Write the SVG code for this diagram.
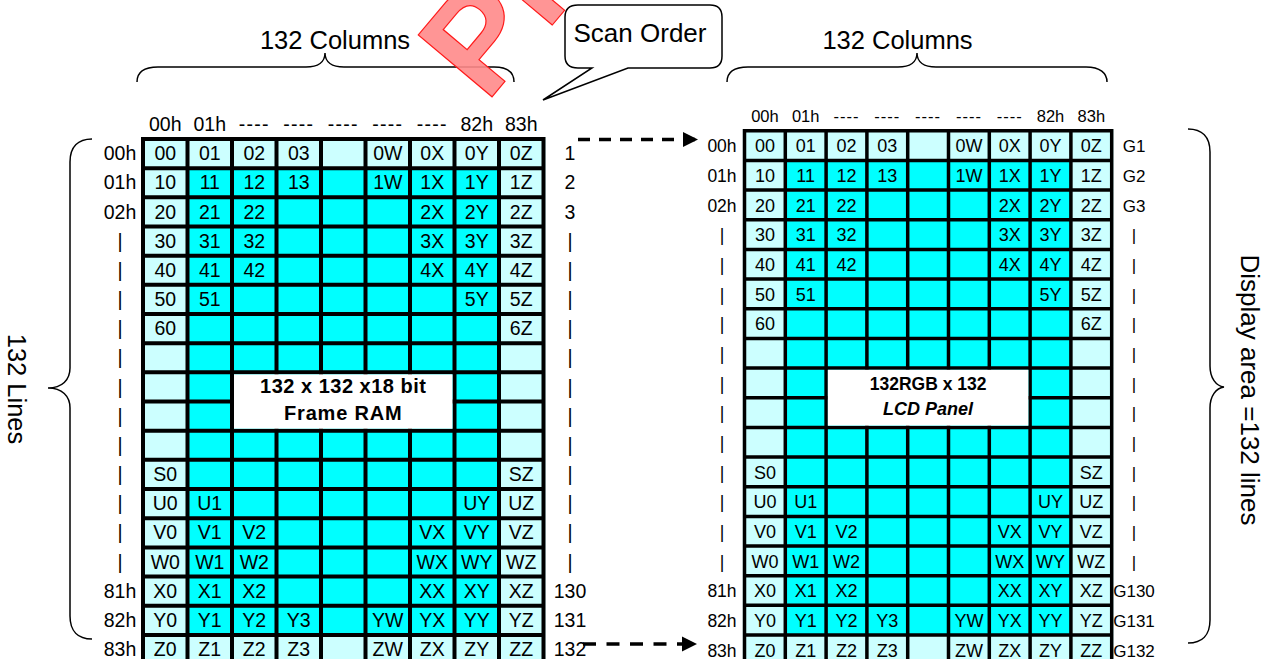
<svg xmlns="http://www.w3.org/2000/svg" width="1266" height="659" viewBox="0 0 1266 659">
<defs>
<style>
text{font-family:"Liberation Sans",Arial,Helvetica,sans-serif;fill:#000}
.m{text-anchor:middle}
.fl{font-size:19.5px}
.fr{font-size:18px}
.fh{font-size:16.5px}
.fg{font-size:17px}
.big{font-size:25.5px}
.b{font-weight:bold}
.dsh{letter-spacing:1.3px}
.lc{fill:#ccffff}
.cy{fill:#00ffff}
.wh{fill:#ffffff}
.gl{fill:none;stroke:#000;stroke-width:4}
.gr{fill:none;stroke:#000;stroke-width:3.5}
.brace{fill:none;stroke:#000;stroke-width:1.5}
.dash{fill:none;stroke:#000;stroke-width:3.5}
text.wm{fill:#ff8a8a;fill-opacity:0.9;stroke:#ff1a1a;stroke-width:1.2px;font-weight:bold;font-size:140px}
</style>
<marker id="ah" markerUnits="userSpaceOnUse" markerWidth="16" markerHeight="16" refX="15" refY="8" orient="auto"><path d="M0,0.5L15,8L0,15.5z" fill="#000"/></marker>
</defs>
<rect width="1266" height="659" fill="#fff"/>

<g id="frame-ram">
<rect class="lc" x="141" y="137" width="404.5" height="527"/>
<rect class="cy" x="187.5" y="168.17" width="311.5" height="466.72"/>
<path class="gl" d="M143,137V665M187.5,137V665M232,137V665M276.5,137V665M321,137V665M365.5,137V665M410,137V665M454.5,137V665M499,137V665M543.5,137V665M141,139H545.5M141,168.17H545.5M141,197.34H545.5M141,226.51H545.5M141,255.68H545.5M141,284.85H545.5M141,314.02H545.5M141,343.19H545.5M141,372.36H545.5M141,401.53H545.5M141,430.7H545.5M141,459.87H545.5M141,489.04H545.5M141,518.21H545.5M141,547.38H545.5M141,576.55H545.5M141,605.72H545.5M141,634.89H545.5"/>
<rect class="wh" x="234" y="374.36" width="218.5" height="54.34"/>
<text class="m b" font-size="20" letter-spacing="0.5" x="343.25" y="393.3">132 x 132 x18 bit</text>
<text class="m b" font-size="20" letter-spacing="0.8" x="343.25" y="420">Frame RAM</text>
<g class="fl m">
<text y="160.2"><tspan x="165.25">00</tspan><tspan x="209.75">01</tspan><tspan x="254.25">02</tspan><tspan x="298.75">03</tspan><tspan x="387.75">0W</tspan><tspan x="432.25">0X</tspan><tspan x="476.75">0Y</tspan><tspan x="521.25">0Z</tspan></text>
<text y="189.4"><tspan x="165.25">10</tspan><tspan x="209.75">11</tspan><tspan x="254.25">12</tspan><tspan x="298.75">13</tspan><tspan x="387.75">1W</tspan><tspan x="432.25">1X</tspan><tspan x="476.75">1Y</tspan><tspan x="521.25">1Z</tspan></text>
<text y="218.5"><tspan x="165.25">20</tspan><tspan x="209.75">21</tspan><tspan x="254.25">22</tspan><tspan x="432.25">2X</tspan><tspan x="476.75">2Y</tspan><tspan x="521.25">2Z</tspan></text>
<text y="247.7"><tspan x="165.25">30</tspan><tspan x="209.75">31</tspan><tspan x="254.25">32</tspan><tspan x="432.25">3X</tspan><tspan x="476.75">3Y</tspan><tspan x="521.25">3Z</tspan></text>
<text y="276.9"><tspan x="165.25">40</tspan><tspan x="209.75">41</tspan><tspan x="254.25">42</tspan><tspan x="432.25">4X</tspan><tspan x="476.75">4Y</tspan><tspan x="521.25">4Z</tspan></text>
<text y="306.1"><tspan x="165.25">50</tspan><tspan x="209.75">51</tspan><tspan x="476.75">5Y</tspan><tspan x="521.25">5Z</tspan></text>
<text y="335.2"><tspan x="165.25">60</tspan><tspan x="521.25">6Z</tspan></text>
<text y="481.1"><tspan x="165.25">S0</tspan><tspan x="521.25">SZ</tspan></text>
<text y="510.2"><tspan x="165.25">U0</tspan><tspan x="209.75">U1</tspan><tspan x="476.75">UY</tspan><tspan x="521.25">UZ</tspan></text>
<text y="539.4"><tspan x="165.25">V0</tspan><tspan x="209.75">V1</tspan><tspan x="254.25">V2</tspan><tspan x="432.25">VX</tspan><tspan x="476.75">VY</tspan><tspan x="521.25">VZ</tspan></text>
<text y="568.6"><tspan x="165.25">W0</tspan><tspan x="209.75">W1</tspan><tspan x="254.25">W2</tspan><tspan x="432.25">WX</tspan><tspan x="476.75">WY</tspan><tspan x="521.25">WZ</tspan></text>
<text y="597.8"><tspan x="165.25">X0</tspan><tspan x="209.75">X1</tspan><tspan x="254.25">X2</tspan><tspan x="432.25">XX</tspan><tspan x="476.75">XY</tspan><tspan x="521.25">XZ</tspan></text>
<text y="626.9"><tspan x="165.25">Y0</tspan><tspan x="209.75">Y1</tspan><tspan x="254.25">Y2</tspan><tspan x="298.75">Y3</tspan><tspan x="387.75">YW</tspan><tspan x="432.25">YX</tspan><tspan x="476.75">YY</tspan><tspan x="521.25">YZ</tspan></text>
<text y="656.1"><tspan x="165.25">Z0</tspan><tspan x="209.75">Z1</tspan><tspan x="254.25">Z2</tspan><tspan x="298.75">Z3</tspan><tspan x="387.75">ZW</tspan><tspan x="432.25">ZX</tspan><tspan x="476.75">ZY</tspan><tspan x="521.25">ZZ</tspan></text>
</g>
</g>

<g id="frame-ram-labels" class="fl m">
<text y="131"><tspan x="165.25">00h</tspan><tspan x="209.75">01h</tspan><tspan class="dsh" x="254.25">----</tspan><tspan class="dsh" x="298.75">----</tspan><tspan class="dsh" x="343.25">----</tspan><tspan class="dsh" x="387.75">----</tspan><tspan class="dsh" x="432.25">----</tspan><tspan x="476.75">82h</tspan><tspan x="521.25">83h</tspan></text>
<text x="120" y="160.2">00h</text><text x="120" y="189.4">01h</text><text x="120" y="218.5">02h</text>
<text x="120" y="247.7">|</text><text x="120" y="276.9">|</text><text x="120" y="306.1">|</text><text x="120" y="335.2">|</text><text x="120" y="364.4">|</text><text x="120" y="393.6">|</text><text x="120" y="422.7">|</text><text x="120" y="451.9">|</text><text x="120" y="481.1">|</text><text x="120" y="510.2">|</text><text x="120" y="539.4">|</text><text x="120" y="568.6">|</text>
<text x="120" y="597.8">81h</text><text x="120" y="626.9">82h</text><text x="120" y="656.1">83h</text>
<text x="570" y="160.2">1</text><text x="570" y="189.4">2</text><text x="570" y="218.5">3</text>
<text x="570" y="247.7">|</text><text x="570" y="276.9">|</text><text x="570" y="306.1">|</text><text x="570" y="335.2">|</text><text x="570" y="364.4">|</text><text x="570" y="393.6">|</text><text x="570" y="422.7">|</text><text x="570" y="451.9">|</text><text x="570" y="481.1">|</text><text x="570" y="510.2">|</text><text x="570" y="539.4">|</text><text x="570" y="568.6">|</text>
<text x="570" y="597.8">130</text><text x="570" y="626.9">131</text><text x="570" y="656.1">132</text>
</g>

<g id="lcd-panel">
<rect class="lc" x="742.75" y="129.05" width="370.7" height="536"/>
<rect class="cy" x="785.3" y="160.46" width="285.6" height="474.56"/>
<path class="gr" d="M744.5,129V665M785.3,129V665M826.1,129V665M866.9,129V665M907.7,129V665M948.5,129V665M989.3,129V665M1030.1,129V665M1070.9,129V665M1111.7,129V665M742.75,130.8H1113.45M742.75,160.46H1113.45M742.75,190.12H1113.45M742.75,219.78H1113.45M742.75,249.44H1113.45M742.75,279.1H1113.45M742.75,308.76H1113.45M742.75,338.42H1113.45M742.75,368.08H1113.45M742.75,397.74H1113.45M742.75,427.4H1113.45M742.75,457.06H1113.45M742.75,486.72H1113.45M742.75,516.38H1113.45M742.75,546.04H1113.45M742.75,575.7H1113.45M742.75,605.36H1113.45M742.75,635.02H1113.45"/>
<rect class="wh" x="827.85" y="369.83" width="200.5" height="55.82"/>
<text class="m b" font-size="17.5" x="928.1" y="390">132RGB x 132</text>
<text class="m b" font-size="18" font-style="italic" x="928.1" y="415">LCD Panel</text>
<g class="fr m">
<text y="152.3"><tspan x="764.9">00</tspan><tspan x="805.7">01</tspan><tspan x="846.5">02</tspan><tspan x="887.3">03</tspan><tspan x="968.9">0W</tspan><tspan x="1009.7">0X</tspan><tspan x="1050.5">0Y</tspan><tspan x="1091.3">0Z</tspan></text>
<text y="182"><tspan x="764.9">10</tspan><tspan x="805.7">11</tspan><tspan x="846.5">12</tspan><tspan x="887.3">13</tspan><tspan x="968.9">1W</tspan><tspan x="1009.7">1X</tspan><tspan x="1050.5">1Y</tspan><tspan x="1091.3">1Z</tspan></text>
<text y="211.6"><tspan x="764.9">20</tspan><tspan x="805.7">21</tspan><tspan x="846.5">22</tspan><tspan x="1009.7">2X</tspan><tspan x="1050.5">2Y</tspan><tspan x="1091.3">2Z</tspan></text>
<text y="241.3"><tspan x="764.9">30</tspan><tspan x="805.7">31</tspan><tspan x="846.5">32</tspan><tspan x="1009.7">3X</tspan><tspan x="1050.5">3Y</tspan><tspan x="1091.3">3Z</tspan></text>
<text y="271"><tspan x="764.9">40</tspan><tspan x="805.7">41</tspan><tspan x="846.5">42</tspan><tspan x="1009.7">4X</tspan><tspan x="1050.5">4Y</tspan><tspan x="1091.3">4Z</tspan></text>
<text y="300.6"><tspan x="764.9">50</tspan><tspan x="805.7">51</tspan><tspan x="1050.5">5Y</tspan><tspan x="1091.3">5Z</tspan></text>
<text y="330.3"><tspan x="764.9">60</tspan><tspan x="1091.3">6Z</tspan></text>
<text y="478.6"><tspan x="764.9">S0</tspan><tspan x="1091.3">SZ</tspan></text>
<text y="508.2"><tspan x="764.9">U0</tspan><tspan x="805.7">U1</tspan><tspan x="1050.5">UY</tspan><tspan x="1091.3">UZ</tspan></text>
<text y="537.9"><tspan x="764.9">V0</tspan><tspan x="805.7">V1</tspan><tspan x="846.5">V2</tspan><tspan x="1009.7">VX</tspan><tspan x="1050.5">VY</tspan><tspan x="1091.3">VZ</tspan></text>
<text y="567.5"><tspan x="764.9">W0</tspan><tspan x="805.7">W1</tspan><tspan x="846.5">W2</tspan><tspan x="1009.7">WX</tspan><tspan x="1050.5">WY</tspan><tspan x="1091.3">WZ</tspan></text>
<text y="597.2"><tspan x="764.9">X0</tspan><tspan x="805.7">X1</tspan><tspan x="846.5">X2</tspan><tspan x="1009.7">XX</tspan><tspan x="1050.5">XY</tspan><tspan x="1091.3">XZ</tspan></text>
<text y="626.9"><tspan x="764.9">Y0</tspan><tspan x="805.7">Y1</tspan><tspan x="846.5">Y2</tspan><tspan x="887.3">Y3</tspan><tspan x="968.9">YW</tspan><tspan x="1009.7">YX</tspan><tspan x="1050.5">YY</tspan><tspan x="1091.3">YZ</tspan></text>
<text y="656.5"><tspan x="764.9">Z0</tspan><tspan x="805.7">Z1</tspan><tspan x="846.5">Z2</tspan><tspan x="887.3">Z3</tspan><tspan x="968.9">ZW</tspan><tspan x="1009.7">ZX</tspan><tspan x="1050.5">ZY</tspan><tspan x="1091.3">ZZ</tspan></text>
</g>
</g>

<g id="lcd-panel-labels" class="m">
<text class="fh" y="122"><tspan x="764.9">00h</tspan><tspan x="805.7">01h</tspan><tspan x="846.5" letter-spacing="1">----</tspan><tspan x="887.3" letter-spacing="1">----</tspan><tspan x="928.1" letter-spacing="1">----</tspan><tspan x="968.9" letter-spacing="1">----</tspan><tspan x="1009.7" letter-spacing="1">----</tspan><tspan x="1050.5">82h</tspan><tspan x="1091.3">83h</tspan></text>
<g font-size="17.5">
<text x="722" y="152.3">00h</text><text x="722" y="182">01h</text><text x="722" y="211.6">02h</text>
<text x="722" y="241.3">|</text><text x="722" y="271">|</text><text x="722" y="300.6">|</text><text x="722" y="330.3">|</text><text x="722" y="359.9">|</text><text x="722" y="389.6">|</text><text x="722" y="419.2">|</text><text x="722" y="448.9">|</text><text x="722" y="478.6">|</text><text x="722" y="508.2">|</text><text x="722" y="537.9">|</text><text x="722" y="567.5">|</text>
<text x="722" y="597.2">81h</text><text x="722" y="626.9">82h</text><text x="722" y="656.5">83h</text>
</g>
<g class="fg">
<text x="1134" y="152.3">G1</text><text x="1134" y="182">G2</text><text x="1134" y="211.6">G3</text>
<text x="1134" y="241.3">|</text><text x="1134" y="271">|</text><text x="1134" y="300.6">|</text><text x="1134" y="330.3">|</text><text x="1134" y="359.9">|</text><text x="1134" y="389.6">|</text><text x="1134" y="419.2">|</text><text x="1134" y="448.9">|</text><text x="1134" y="478.6">|</text><text x="1134" y="508.2">|</text><text x="1134" y="537.9">|</text><text x="1134" y="567.5">|</text>
<text x="1134" y="597.2">G130</text><text x="1134" y="626.9">G131</text><text x="1134" y="656.5">G132</text>
</g>
</g>

<g id="braces">
<path class="brace" d="M137,82C137,72 144,67 158,67L306,67C318,67 325,62 325,53C325,62 332,67 344,67L494,67C508,67 514,73 514,82"/>
<path class="brace" d="M727,82C727,72 734,67 748,67L898,67C910,67 917,62 917,53C917,62 924,67 936,67L1086,67C1100,67 1107,73 1107,82"/>
<path class="brace" d="M92,139C78,139 70,147 70,162L70,368C70,380 62,388 48,388C62,388 70,396 70,408L70,616C70,631 78,639 92,639"/>
<path class="brace" d="M1188,129C1202,129 1210,137 1210,152L1210,366C1210,378 1216,386 1224,387C1216,388 1210,396 1210,408L1210,620C1210,635 1202,643 1188,643"/>
</g>

<g id="titles">
<text class="big m" x="335" y="49">132 Columns</text>
<text class="big m" x="897.5" y="49">132 Columns</text>
<text class="big m" transform="translate(8,389) rotate(90)">132 Lines</text>
<text class="m" font-size="26" transform="translate(1241,390) rotate(90)">Display area =132 lines</text>
</g>

<g id="scan-order">
<path d="M578,5H710Q722,5 722,17V56Q722,68 710,68H628L543,100L592,68H578Q565,68 565,56V17Q565,5 578,5Z" fill="#fff" stroke="#000" stroke-width="1.5"/>
<text class="m" font-size="26" x="640" y="42">Scan Order</text>
</g>

<g id="connectors">
<path class="dash" stroke-dasharray="12 9" d="M578,139.5H698" marker-end="url(#ah)"/>
<path class="dash" stroke-dasharray="13 10.5" d="M583,644H697" marker-end="url(#ah)"/>
</g>

<g id="watermark">
<text class="wm" transform="translate(486,104) rotate(-50)">Preliminary</text>
</g>
</svg>
